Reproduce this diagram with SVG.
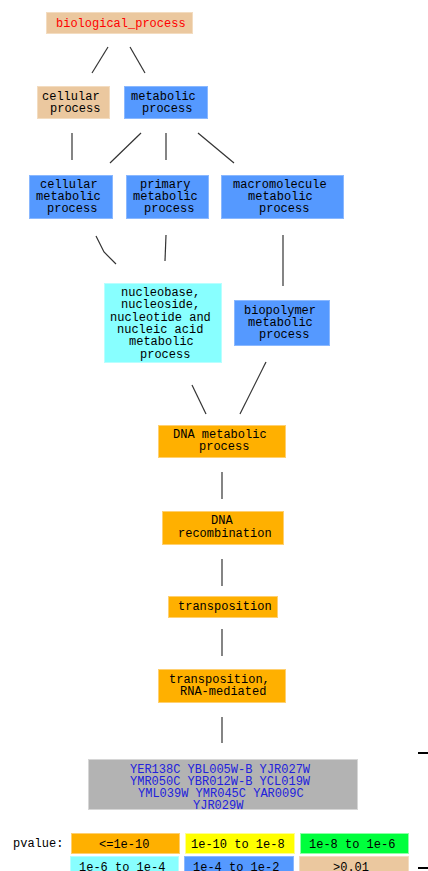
<svg xmlns="http://www.w3.org/2000/svg" width="428" height="871" viewBox="0 0 428 871">
<style>
text{font-family:"Liberation Mono","DejaVu Sans Mono",monospace;font-size:12px;fill:#000}
.tan{fill:#EBC89F;stroke:#F3DCC0;stroke-width:1}
.blue{fill:#5599FF;stroke:#8AB8FF;stroke-width:1}
.cyan{fill:#88FFFF;stroke:#B8FFFF;stroke-width:1}
.orange{fill:#FFB000;stroke:#FFD070;stroke-width:1}
.gray{fill:#B3B3B3;stroke:#D6D6D6;stroke-width:1}
.yellow{fill:#FFFF00;stroke:#FFFF90;stroke-width:1}
.green{fill:#00FF3C;stroke:#90FFA8;stroke-width:1}
.edge{stroke:#333;stroke-width:1.2;fill:none}
.red{fill:#FF0000}
.gene{fill:#2222DD}
</style>
<g id="connectors">
<line class="edge" x1="108" y1="47" x2="92" y2="73"/>
<line class="edge" x1="130" y1="47" x2="145" y2="73"/>
<line class="edge" x1="72" y1="133" x2="72" y2="160"/>
<line class="edge" x1="141" y1="133" x2="110" y2="163"/>
<line class="edge" x1="166" y1="133" x2="166" y2="160"/>
<line class="edge" x1="198" y1="133" x2="234" y2="163"/>
<polyline class="edge" points="96,236 104,252 116,264"/>
<line class="edge" x1="166" y1="235" x2="165" y2="261"/>
<line class="edge" x1="283" y1="235" x2="283" y2="286"/>
<line class="edge" x1="192" y1="385" x2="206" y2="414"/>
<line class="edge" x1="266" y1="362" x2="240" y2="414"/>
<line class="edge" x1="222" y1="472" x2="222" y2="499"/>
<line class="edge" x1="222" y1="559" x2="222" y2="586"/>
<line class="edge" x1="222" y1="629" x2="222" y2="656"/>
<line class="edge" x1="222" y1="717" x2="222" y2="743"/>
<line stroke="#000" stroke-width="2" x1="418" y1="753" x2="428" y2="753"/>
<line stroke="#000" stroke-width="2" x1="418" y1="868" x2="428" y2="868"/>
</g>
<g id="n_biological_process">
<rect class="tan" x="46.5" y="12.5" width="146" height="21"/>
<text class="red" x="56" y="26.5">biological_process</text>
</g>
<g id="n_cellular_process">
<rect class="tan" x="37.5" y="86.5" width="72" height="32"/>
<text x="42" y="100">cellular</text>
<text x="50" y="112">process</text>
</g>
<g id="n_metabolic_process">
<rect class="blue" x="124.5" y="86.5" width="83" height="32"/>
<text x="131" y="100">metabolic</text>
<text x="142" y="112">process</text>
</g>
<g id="n_cellular_metabolic">
<rect class="blue" x="29.5" y="175.5" width="83" height="43"/>
<text x="40" y="188">cellular</text>
<text x="36" y="200">metabolic</text>
<text x="47" y="212">process</text>
</g>
<g id="n_primary_metabolic">
<rect class="blue" x="126.5" y="175.5" width="82" height="43"/>
<text x="140" y="188">primary</text>
<text x="133" y="200">metabolic</text>
<text x="144" y="212">process</text>
</g>
<g id="n_macromolecule_metabolic">
<rect class="blue" x="221.5" y="175.5" width="122" height="43"/>
<text x="233" y="188">macromolecule</text>
<text x="248" y="200">metabolic</text>
<text x="259" y="212">process</text>
</g>
<g id="n_nucleobase">
<rect class="cyan" x="104.5" y="283.5" width="117" height="79"/>
<text x="121" y="296">nucleobase,</text>
<text x="121" y="308.3">nucleoside,</text>
<text x="110" y="320.6">nucleotide and</text>
<text x="117" y="332.9">nucleic acid</text>
<text x="129" y="345.2">metabolic</text>
<text x="140" y="357.5">process</text>
</g>
<g id="n_biopolymer">
<rect class="blue" x="234.5" y="300.5" width="95" height="45"/>
<text x="244" y="314">biopolymer</text>
<text x="248" y="326">metabolic</text>
<text x="259" y="338">process</text>
</g>
<g id="n_dna_metabolic">
<rect class="orange" x="158.5" y="425.5" width="127" height="32"/>
<text x="173" y="438">DNA metabolic</text>
<text x="199" y="450">process</text>
</g>
<g id="n_dna_recombination">
<rect class="orange" x="162.5" y="511.5" width="121" height="33"/>
<text x="211" y="524">DNA</text>
<text x="178" y="536.5">recombination</text>
</g>
<g id="n_transposition">
<rect class="orange" x="168.5" y="596.5" width="109" height="21"/>
<text x="178" y="609.5">transposition</text>
</g>
<g id="n_transposition_rna">
<rect class="orange" x="158.5" y="669.5" width="127" height="33"/>
<text x="169" y="683">transposition,</text>
<text x="180" y="695">RNA-mediated</text>
</g>
<g id="n_genes">
<rect class="gray" x="88.5" y="759.5" width="269" height="50"/>
<text class="gene" x="130" y="772.7">YER138C YBL005W-B YJR027W</text>
<text class="gene" x="130" y="784.9">YMR050C YBR012W-B YCL019W</text>
<text class="gene" x="138" y="797.1">YML039W YMR045C YAR009C</text>
<text class="gene" x="193" y="809.3">YJR029W</text>
</g>
<g id="legend">
<text x="13" y="847">pvalue:</text>
<rect class="orange" x="71.5" y="833.5" width="108" height="20"/>
<text x="99" y="847.5">&lt;=1e-10</text>
<rect class="yellow" x="185.5" y="833.5" width="109" height="20"/>
<text x="191" y="847.5">1e-10 to 1e-8</text>
<rect class="green" x="300.5" y="833.5" width="108" height="20"/>
<text x="309" y="847.5">1e-8 to 1e-6</text>
<rect class="cyan" x="70.5" y="856.5" width="108" height="20"/>
<text x="79" y="871">1e-6 to 1e-4</text>
<rect class="blue" x="184.5" y="856.5" width="109" height="20"/>
<text x="193" y="871">1e-4 to 1e-2</text>
<rect class="tan" x="299.5" y="856.5" width="109" height="20"/>
<text x="333" y="871">&gt;0.01</text>
</g>
</svg>
